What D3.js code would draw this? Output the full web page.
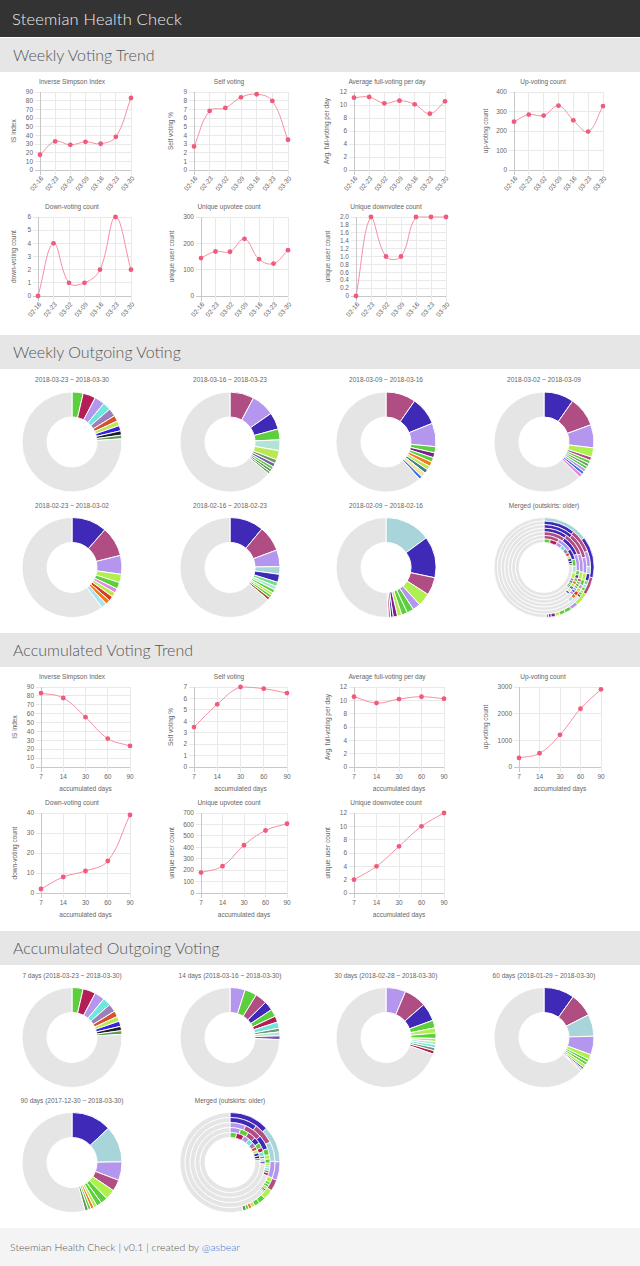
<!DOCTYPE html>
<html><head><meta charset="utf-8">
<script src="https://cdn.jsdelivr.net/npm/d3@7"></script>
<style>
body{margin:0;background:#fff;}
svg{display:block;}
</style></head><body>
<svg id="c" width="640" height="1266"></svg>
<script>
// ---------------- DATA ----------------
const weekDates = ["02-16","02-23","03-02","03-09","03-16","03-23","03-30"];
const wIS    = [17.6, 33.0, 29.0, 32.5, 30.3, 38.3, 83.1];
const wSelf  = [2.72, 6.82, 7.16, 8.39, 8.74, 7.97, 3.49];
const wFull  = [11.13, 11.23, 10.26, 10.67, 10.10, 8.67, 10.56];
const wUp    = [248, 284, 279, 330, 255, 197, 328];
const wDown  = [0, 4, 1, 1, 2, 6, 2];
const wUpee  = [144, 169, 168, 217, 140, 123, 174];
const wDownee= [0, 2, 1, 1, 2, 2, 2];

const accDays = ["7","14","30","60","90"];
const aIS    = [83.2, 77.6, 56.1, 32.0, 23.7];
const aSelf  = [3.49, 5.48, 7.0, 6.85, 6.47];
const aFull  = [10.54, 9.59, 10.19, 10.54, 10.24];
const aUp    = [339, 515, 1205, 2184, 2912];
const aDown  = [2, 8, 11, 16, 39];
const aUpee  = [179, 235, 418, 547, 606];
const aDownee= [2, 4, 7, 10, 12];

const chartTitles = ["Inverse Simpson Index","Self voting","Average full-voting per day","Up-voting count","Down-voting count","Unique upvotee count","Unique downvotee count"];
const yTitles = ["IS index","Self voting %","Avg. full-voting per day","up-voting count","down-voting count","unique user count","unique user count"];
// [max, step] of y tick labels
const wTicks = [[90,10],[9,1],[12,2],[400,100],[6,1],[300,100],[2,0.2]];
const aTicks = [[90,10],[7,1],[12,2],[3000,1000],[40,10],[700,100],[12,2]];

// donut segments: [colour key, percent]; remainder = others
const weekTitles = ["2018-03-23 ~ 2018-03-30","2018-03-16 ~ 2018-03-23","2018-03-09 ~ 2018-03-16","2018-03-02 ~ 2018-03-09","2018-02-23 ~ 2018-03-02","2018-02-16 ~ 2018-02-23","2018-02-09 ~ 2018-02-16"];
const w1 = [["grn",3.6],["crim",4.1],["lav",3.3],["turq",2.6],["pgray",2.6],["orng",1.9],["ygrn",1.6],["blue",1.7],["blk",1.4],["dgrn",1.2]];
const w2 = [["mauve",7.8],["lav",7.5],["dblue",5.5],["grn",3.5],["mint",3.5],["ygrn",3.0],["sage",1.3],["purp",1.2],["grn",1.0],["dgrn",0.9],["sage",0.8]];
const w3 = [["mauve",9.7],["dblue",9.2],["lav",7.6],["grn",2.0],["violet",1.6],["grn",1.5],["orange",1.5],["ygrn",1.3],["teal",1.3],["cream",1.6],["bblue",1.0]];
const w4 = [["dblue",9.7],["mauve",9.7],["lav",7.5],["lime",3.0],["mauve",1.2],["grn",1.1],["sage",1.0],["grn",1.0],["lav",1.0],["bblue",1.0],["pink",1.2]];
const w5 = [["dblue",11.4],["mauve",9.7],["lav",6.1],["lime",2.7],["grn",2.1],["pink",1.5],["ygrn",1.5],["red",1.5],["orange",1.5],["cyanl",1.8]];
const w6 = [["dblue",11.0],["mauve",8.3],["lav",5.4],["lblue",2.5],["dblue",2.6],["mgrn",1.4],["mint",1.2],["grn",1.1],["ygrn",0.9],["grn",0.9],["brown",0.9]];
const w7 = [["lblue",14.9],["dblue",13.4],["mauve",5.8],["lime",4.2],["lav",2.5],["grn",2.2],["grn",1.9],["ygrn",1.4],["violet",1.4],["dblue",0.8],["rose",0.8]];

const accTitles = ["7 days (2018-03-23 ~ 2018-03-30)","14 days (2018-03-16 ~ 2018-03-30)","30 days (2018-02-28 ~ 2018-03-30)","60 days (2018-01-29 ~ 2018-03-30)","90 days (2017-12-30 ~ 2018-03-30)"];
const a7  = w1;
const a14 = [["lav",4.9],["grn",3.9],["mauve",3.8],["dblue",3.0],["grn",2.4],["crim",2.0],["turq",2.0],["sage",1.2],["mint",1.25],["purp",1.25]];
const a30 = [["lav",6.4],["mauve",7.2],["dblue",5.8],["grn",2.5],["lime",1.7],["grn",1.7],["ygrn",1.0],["mint",1.0],["turq",1.0],["sage",1.0],["crim",1.1]];
const a60 = [["dblue",9.9],["mauve",7.6],["lblue",7.1],["lav",6.0],["lime",1.7],["grn",1.0],["grn",1.0],["ygrn",1.0],["slate",0.6],["bblue",0.4],["orange",0.4]];
const a90 = [["dblue",13.0],["lblue",11.8],["lav",6.0],["mauve",3.7],["lime",3.3],["grn",2.2],["grn",1.7],["ygrn",1.1],["orange",1.0],["grn",0.9],["dgrn",1.1]];

// ---------------- STYLE ----------------
const palette = {grn:"#5ccf3c",crim:"#b31e57",lav:"#b596ee",turq:"#6de6dc",pgray:"#9b80bd",orng:"#d5522a",
  ygrn:"#b9e94e",blue:"#3722e0",blk:"#1f1f2a",dgrn:"#5e9a55",mauve:"#b04d82",dblue:"#3f2ab8",mint:"#b3e3d6",
  lime:"#aef04d",sage:"#6f9a6b",purp:"#7b5bb0",lblue:"#a8d5da",orange:"#f07a1f",teal:"#3f7f86",cream:"#f5e2a8",
  bblue:"#3b6fe0",pink:"#e08ae0",violet:"#7a2090",brown:"#a0522d",red:"#d93a20",cyanl:"#a8e4ee",slate:"#4b5a8a",
  mgrn:"#6ee08a",rose:"#c0708e",others:"#e5e5e5"};
const chartFont = "Liberation Sans, Arial, sans-serif";
const headFont = "Lato, 'Open Sans', sans-serif";
const txt = "#666";

const svg = d3.select("#c");

// header + section bands
svg.append("rect").attr("x",0).attr("y",0).attr("width",640).attr("height",37).attr("fill","#333");
svg.append("text").attr("x",12).attr("y",19).attr("dy","0.36em").attr("font-family",headFont).attr("font-size",16.5)
  .attr("font-weight",300).attr("letter-spacing",0.2).attr("fill","#eee").text("Steemian Health Check");
function band(y, label){
  svg.append("rect").attr("x",0).attr("y",y).attr("width",640).attr("height",34).attr("fill","#e6e6e6");
  svg.append("text").attr("x",13).attr("y",y+17).attr("dy","0.36em").attr("font-family",headFont).attr("font-size",16)
    .attr("font-weight",300).attr("fill","#555").text(label);
}
band(38,"Weekly Voting Trend");
band(335,"Weekly Outgoing Voting");
band(633,"Accumulated Voting Trend");
band(931,"Accumulated Outgoing Voting");

// footer
svg.append("rect").attr("x",0).attr("y",1228).attr("width",640).attr("height",38).attr("fill","#f4f4f4");
const ft = svg.append("text").attr("x",10).attr("y",1247).attr("dy","0.36em").attr("font-family",headFont).attr("font-size",10.5)
  .attr("font-weight",300).attr("fill","#555");
ft.append("tspan").text("Steemian Health Check | v0.1 | created by ");
ft.append("tspan").attr("fill","#3a7bd5").text("@asbear");

// ---------------- LINE CHARTS ----------------
function splinePath(pts, top, bottom, t){
  const n = pts.length, cps = [];
  for (let i=0;i<n;i++){
    const prev = pts[Math.max(0,i-1)], cur = pts[i], next = pts[Math.min(n-1,i+1)];
    const d01 = Math.hypot(cur[0]-prev[0],cur[1]-prev[1]);
    const d12 = Math.hypot(next[0]-cur[0],next[1]-cur[1]);
    let s01 = d01/(d01+d12), s12 = d12/(d01+d12);
    if(!isFinite(s01)) s01=0; if(!isFinite(s12)) s12=0;
    const fa=t*s01, fb=t*s12;
    const cl = v=>Math.max(top,Math.min(bottom,v));
    cps.push({p:[cur[0]-fa*(next[0]-prev[0]), cl(cur[1]-fa*(next[1]-prev[1]))],
              n:[cur[0]+fb*(next[0]-prev[0]), cl(cur[1]+fb*(next[1]-prev[1]))]});
  }
  const p = d3.path(); p.moveTo(pts[0][0],pts[0][1]);
  for (let i=1;i<n;i++) p.bezierCurveTo(cps[i-1].n[0],cps[i-1].n[1],cps[i].p[0],cps[i].p[1],pts[i][0],pts[i][1]);
  return p.toString();
}

function lineChart(o){
  const g = svg.append("g");
  const x = d3.scalePoint().domain(o.cats).range(o.px);
  const y = d3.scaleLinear().domain([0,o.ticks[0]]).range([o.py[1],o.py[0]]);
  const tv = d3.range(0, o.ticks[0]+o.ticks[1]/2, o.ticks[1]);
  const [l,r] = o.px, [top,bot] = o.py;
  // grid
  g.selectAll(".hg").data(tv).join("line").attr("x1",l-5).attr("x2",r).attr("y1",d=>y(d)).attr("y2",d=>y(d))
    .attr("stroke",d=>d===0?"#c8c8c8":"#e9e9e9").attr("stroke-width",1).attr("shape-rendering","crispEdges");
  g.selectAll(".vg").data(o.cats).join("line").attr("x1",d=>x(d)).attr("x2",d=>x(d)).attr("y1",top).attr("y2",bot+5)
    .attr("stroke",(d,i)=>i===0?"#c8c8c8":"#e9e9e9").attr("stroke-width",1).attr("shape-rendering","crispEdges");
  // y tick labels
  g.selectAll(".yl").data(tv).join("text").attr("x",l-7).attr("y",d=>y(d)).attr("dy","0.35em").attr("text-anchor","end")
    .attr("font-family",chartFont).attr("font-size",6.5).attr("fill",txt)
    .text(d=> d===0 ? "0" : (o.ticks[1]<1 ? d.toFixed(1) : d3.format("d")(d)));
  // x tick labels
  if (o.rotate){
    g.selectAll(".xl").data(o.cats).join("text")
      .attr("transform",d=>`translate(${x(d)+2},${bot+7}) rotate(-50)`).attr("dy","0.35em").attr("text-anchor","end")
      .attr("font-family",chartFont).attr("font-size",6.5).attr("fill",txt).text(d=>d);
  } else {
    g.selectAll(".xl").data(o.cats).join("text").attr("x",d=>x(d)).attr("y",bot+10).attr("dy","0.35em").attr("text-anchor","middle")
      .attr("font-family",chartFont).attr("font-size",6.5).attr("fill",txt).text(d=>d);
    g.append("text").attr("x",(l+r)/2).attr("y",bot+22).attr("dy","0.35em").attr("text-anchor","middle")
      .attr("font-family",chartFont).attr("font-size",6.5).attr("fill",txt).text("accumulated days");
  }
  // titles
  g.append("text").attr("x",o.tx).attr("y",top-10).attr("dy","0.35em").attr("text-anchor","middle")
    .attr("font-family",chartFont).attr("font-size",6.5).attr("fill",txt).text(o.title);
  g.append("text").attr("transform",`translate(${o.yx},${(top+bot)/2}) rotate(-90)`).attr("dy","0.35em").attr("text-anchor","middle")
    .attr("font-family",chartFont).attr("font-size",6.5).attr("fill",txt).text(o.ytitle);
  // line + points
  const pts = o.vals.map((v,i)=>[x(o.cats[i]), y(v)]);
  g.append("path").attr("d",splinePath(pts,top,bot,0.4)).attr("fill","none").attr("stroke","#f590a5").attr("stroke-width",1);
  g.selectAll("circle").data(o.vals).join("circle").attr("cx",(d,i)=>x(o.cats[i])).attr("cy",d=>y(d)).attr("r",2.4)
    .attr("fill","#ef5b7c");
}

// layout
const wSeries = [wIS,wSelf,wFull,wUp,wDown,wUpee,wDownee];
const wPX = [[40,131],[194,288],[354,445],[514,603],[38,131],[201,288],[356,446]];
const wTX = [72,229,387,543,72,229,386];
const wYX = [14,171,327,486,14,172,328];
const wPY = [[92,170],[92,170],[92,170],[92,170],[217,296],[217,296],[217,296]];
wSeries.forEach((s,i)=>lineChart({cats:weekDates, vals:s, ticks:wTicks[i], px:wPX[i], py:wPY[i], tx:wTX[i], yx:wYX[i],
  title:chartTitles[i], ytitle:yTitles[i], rotate:true}));

const aSeries = [aIS,aSelf,aFull,aUp,aDown,aUpee,aDownee];
const aPX = [[41,130],[194,287],[354,444],[519,601],[41,130],[201,287],[354,444]];
const aTX = [72,229,387,543,72,229,386];
const aYX = [15,171,328,486,15,172,328];
const aPY = [[687,767],[687,767],[687,767],[687,767],[813,893],[813,893],[813,893]];
aSeries.forEach((s,i)=>lineChart({cats:accDays, vals:s, ticks:aTicks[i], px:aPX[i], py:aPY[i], tx:aTX[i], yx:aYX[i],
  title:chartTitles[i], ytitle:yTitles[i], rotate:false}));

// ---------------- DONUTS ----------------
function withOthers(segs){
  const sum = d3.sum(segs, d=>d[1]);
  return segs.map(d=>({k:d[0], v:d[1]})).concat([{k:"others", v:100-sum}]);
}
function donut(cx, cy, title, sets){
  const g = svg.append("g").attr("transform",`translate(${cx},${cy})`);
  g.append("text").attr("y",-62).attr("dy","0.35em").attr("text-anchor","middle")
    .attr("font-family",chartFont).attr("font-size",6.5).attr("fill",txt).text(title);
  const R = 50, r0 = 25, n = sets.length, th = (R-r0)/n;
  const pie = d3.pie().sort(null).value(d=>d.v);
  sets.forEach((segs,i)=>{
    const outer = R - i*th, inner = outer - th;
    const arc = d3.arc().innerRadius(inner).outerRadius(outer);
    g.append("g").selectAll("path").data(pie(withOthers(segs))).join("path")
      .attr("d",arc).attr("fill",d=>palette[d.data.k]).attr("stroke","#fff").attr("stroke-width", n>1?0.8:1);
  });
}
const colX = [72,230,386,544];
const weekly = [w1,w2,w3,w4,w5,w6,w7];
weekly.forEach((s,i)=>donut(colX[i%4], i<4?442:567.5, weekTitles[i], [s]));
donut(colX[3], 567.5, "Merged (outskirts: older)", weekly.slice().reverse());

const accum = [a7,a14,a30,a60,a90];
accum.forEach((s,i)=>donut(colX[i%4], i<4?1037.5:1162.5, accTitles[i], [s]));
donut(colX[1], 1162.5, "Merged (outskirts: older)", accum.slice().reverse());
</script>
</body></html>
